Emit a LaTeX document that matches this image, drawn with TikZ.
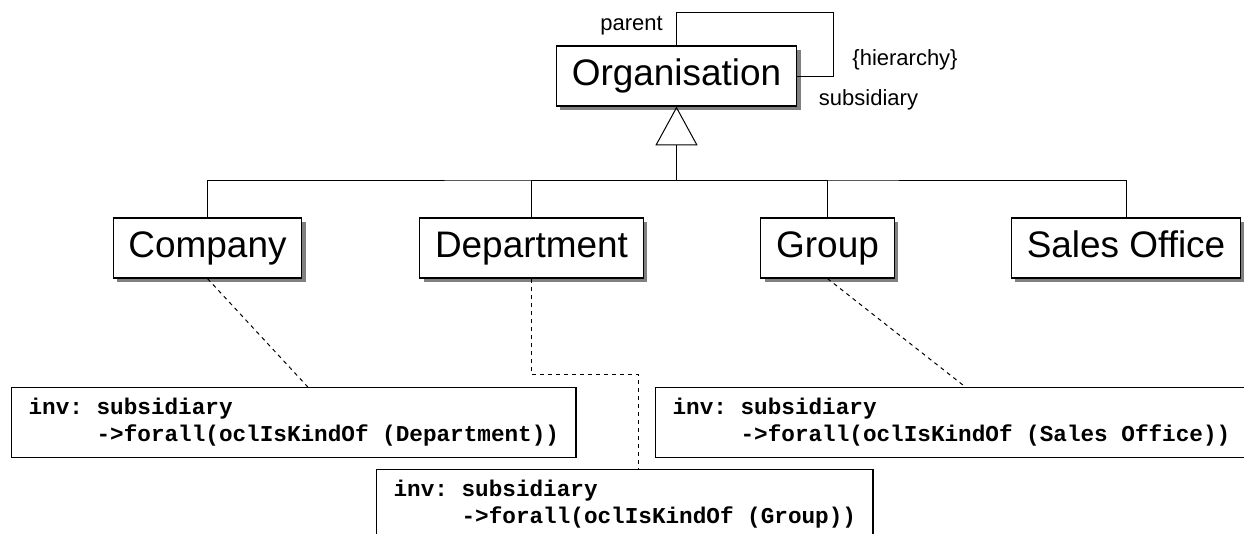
\documentclass[tikz,border=0pt]{standalone}
\usepackage{fontspec}
\setmainfont{Liberation Sans}
\setmonofont{Liberation Mono}
\usetikzlibrary{arrows.meta,shadows,calc}

\tikzset{every picture/.style={line width=0.75pt}}
\tikzset{
  classbox/.style={draw, line width=0.9pt, fill=white, inner xsep=11.5pt, minimum height=45pt,
    text height=20pt, text depth=5.8pt,
    font=\fontsize{27.7}{33}\selectfont,
    drop shadow={shadow xshift=3pt, shadow yshift=-3pt, fill=black!50, opacity=1}},
  rolelabel/.style={font=\fontsize{16.5}{20}\selectfont, inner sep=0pt},
  notebox/.style={draw, line width=0.9pt, fill=white, anchor=north west, align=left,
    inner xsep=12.75pt, minimum height=52.5pt,
    font=\fontsize{17}{20.25}\selectfont\ttfamily\bfseries},
  notelink/.style={dash pattern=on 3pt off 3pt},
}

\begin{document}
\begin{tikzpicture}[x=0.75pt,y=0.75pt,yscale=-1,xscale=1]
\useasboundingbox (0,0) rectangle (1244,533);
\clip (0,0) rectangle (1244,533);

% Classes
\node [classbox] (org) at (676.5,76) {Organisation};
\node [classbox] (comp) at (207.5,248) {Company};
\node [classbox] (dept) at (531.5,248) {Department};
\node [classbox] (grp) at (827.5,248) {Group};
\node [classbox] (sales) at (1126,248) {Sales Office};

% Constraint notes
\node [notebox] (cnote) at (11,387) {inv: subsidiary\\\hspace*{3em}->forall(oclIsKindOf (Department))};
\node [notebox] (snote) at (655,387) {inv: subsidiary\\\hspace*{3em}->forall(oclIsKindOf (Sales Office))};
\node [notebox] (gnote) at (376,469) {inv: subsidiary\\\hspace*{3em}->forall(oclIsKindOf (Group))};

% Generalisation
\coordinate (hub) at (676.5,180);
\draw [-{Triangle[open,length=29pt,width=31.5pt]}] (hub) -- (org.south);
\draw (comp.north) |- (hub) -| (sales.north);
\draw (dept.north) |- (hub);
\draw (grp.north) |- (hub);

% Self association
\coordinate (loop) at (833,12);
\draw (org.north) |- (loop) |- (org.east);

% Text Node
\node [rolelabel] (parentlbl) at (631.5,26) {parent};
% Text Node
\node [rolelabel] (hierlbl) at (905,60) {\{hierarchy\}};
% Text Node
\node [rolelabel] (sublbl) at (868.5,100) {subsidiary};

% Note links
\coordinate (bend) at (638,374);
\draw [notelink] (comp.south) -- ($(cnote.north)+(14,0)$);
\draw [notelink] (dept.south) |- (bend) -- (bend |- gnote.north);
\draw [notelink] (grp.south) -- ($(snote.north)+(14,0)$);

\end{tikzpicture}
\end{document}
